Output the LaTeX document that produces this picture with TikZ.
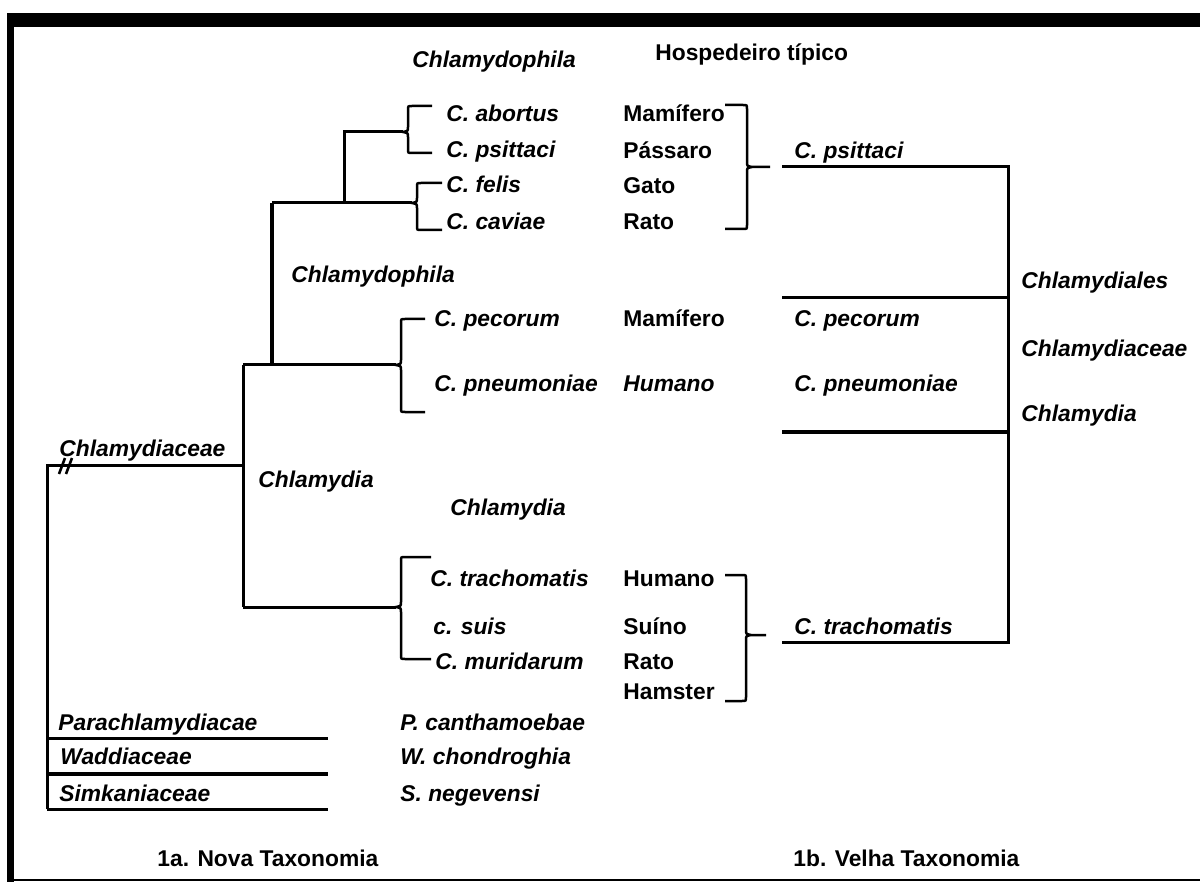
\documentclass[tikz,border=0pt]{standalone}
\usepackage{fontspec}
\setmainfont{Liberation Sans}
\usepackage{xcolor}

% clade brace "{": x, top, tip, bottom, tick end
\newcommand\cladebrace[5]{%
        \draw[brace] (#5,#2) -- ({#1+4},#2) .. controls (#1,#2) .. (#1,{#2+4})
                -- (#1,{#3-5}) .. controls (#1,{#3-1}) .. ({#1-5},#3)
                .. controls (#1,{#3+1}) .. (#1,{#3+5})
                -- (#1,{#4-4}) .. controls (#1,#4) .. ({#1+4},#4) -- (#5,#4);}
% host brace "}": x, top, tip, bottom, tick end, tip end
\newcommand\hostbrace[6]{%
        \draw[brace] (#5,#2) -- ({#1-4},#2) .. controls (#1,#2) .. (#1,{#2+4})
                -- (#1,{#3-5}) .. controls (#1,{#3-1}) .. ({#1+5},#3)
                .. controls (#1,{#3+1}) .. (#1,{#3+5})
                -- (#1,{#4-4}) .. controls (#1,#4) .. ({#1-4},#4) -- (#5,#4)
                ({#1+5},#3) -- (#6,#3);}

\begin{document}
\begin{tikzpicture}[x=0.5pt, y=-0.5pt,
        tree/.style={line width=1.5pt},
        heavy/.style={line width=2pt},
        brace/.style={line width=1.25pt},
        taxon/.style={anchor=base west, inner sep=0pt, font=\fontsize{11.4}{13}\selectfont\bfseries\itshape},
        host/.style={anchor=base west, inner sep=0pt, font=\fontsize{11.4}{13}\selectfont\bfseries}]
        \useasboundingbox (0,0) rectangle (1200,882);

        % Frame {{{
        \fill (7,13) rectangle (1200,27);
        \fill (7,13) rectangle (14,882);
        \draw[line width=1pt] (7,880) -- (1200,880);
        % }}}

        % 1a. Nova Taxonomia {{{
        \node[taxon] (phila-top) at (412,68) {Chlamydophila};
        \node[taxon] (abortus) at (446,122) {C. abortus};
        \node[taxon] (psittaci) at (446,158) {C. psittaci};
        \node[taxon] (felis) at (446,193) {C. felis};
        \node[taxon] (caviae) at (446,230) {C. caviae};
        \node[taxon] (phila-mid) at (291,283) {Chlamydophila};
        \node[taxon] (pecorum) at (434,327) {C. pecorum};
        \node[taxon] (pneumoniae) at (434,392) {C. pneumoniae};
        \node[taxon] (family) at (59,456) {Chlamydiaceae};
        \node[taxon] (dia-mid) at (258,487) {Chlamydia};
        \node[taxon] (dia-top) at (450,515) {Chlamydia};
        \node[taxon] (trachomatis) at (430,586) {C. trachomatis};
        \node[taxon] (suis) at (433,634) {c. suis};
        \node[taxon] (muridarum) at (435,669) {C. muridarum};
        \node[taxon] (parachlamydiacae) at (58,730) {Parachlamydiacae};
        \node[taxon] (waddiaceae) at (60,764) {Waddiaceae};
        \node[taxon] (simkaniaceae) at (59,801) {Simkaniaceae};
        \node[taxon] (canthamoebae) at (400,730) {P. canthamoebae};
        \node[taxon] (chondroghia) at (400,764) {W. chondroghia};
        \node[taxon] (negevensi) at (400,801) {S. negevensi};
        \node[host] (caption-a) at (157,866) {1a. Nova Taxonomia};

        \draw[tree] (47,809) -- (47,465) -- (243,465);
        \draw[line width=1.3pt] (59,474) -- (65,458) (66,474) -- (72,458); % break
        \draw[tree] (47,738) -- (328,738) (47,809) -- (328,809);
        \draw[heavy] (47,774) -- (328,774);
        \draw[tree] (243,365) -- (243,607);
        \draw[tree] (243,365) -- (396,365);
        \draw[heavy] (272,365) -- (272,203);
        \draw[tree] (272,203) -- (412,203);
        \draw[tree] (344,203) -- (344,132) -- (403,132);
        \draw[tree] (243,607) -- (396,607);
        \cladebrace{408}{106}{132}{153}{432}
        \cladebrace{417}{183}{203}{230}{442}
        \cladebrace{401}{319}{365}{412}{425}
        \cladebrace{401}{557}{607}{659}{431}
        % }}}

        % Hospedeiro tipico {{{
        \node[host] (hosts) at (655,61) {Hospedeiro  típico};
        \node[host] (h-abortus) at (623,122) {Mamífero};
        \node[host] (h-psittaci) at (623,159) {Pássaro};
        \node[host] (h-felis) at (623,194) {Gato};
        \node[host] (h-caviae) at (623,230) {Rato};
        \node[host] (h-pecorum) at (623,327) {Mamífero};
        \node[taxon] (h-pneumoniae) at (623,392) {Humano};
        \node[host] (h-trachomatis) at (623,586) {Humano};
        \node[host] (h-suis) at (623,634) {Suíno};
        \node[host] (h-muridarum) at (623,669) {Rato};
        \node[host] (h-hamster) at (623,699) {Hamster};
        \hostbrace{747}{105}{167}{229}{725}{770}
        \hostbrace{746}{575}{635}{701}{725}{766}
        % }}}

        % 1b. Velha Taxonomia {{{
        \node[taxon] (old-psittaci) at (794,159) {C. psittaci};
        \node[taxon] (old-pecorum) at (794,327) {C. pecorum};
        \node[taxon] (old-pneumoniae) at (794,392) {C. pneumoniae};
        \node[taxon] (old-trachomatis) at (794,634) {C. trachomatis};
        \node[taxon] (order) at (1021,289) {Chlamydiales};
        \node[taxon] (old-family) at (1021,357) {Chlamydiaceae};
        \node[taxon] (old-genus) at (1021,422) {Chlamydia};
        \node[host] (caption-b) at (793,866) {1b. Velha Taxonomia};

        \draw[tree] (782,167) -- (1008,167) -- (1008,642) -- (782,642);
        \draw[tree] (782,298) -- (1008,298);
        \draw[heavy] (782,432) -- (1008,432);
        % }}}
\end{tikzpicture}
\end{document}
